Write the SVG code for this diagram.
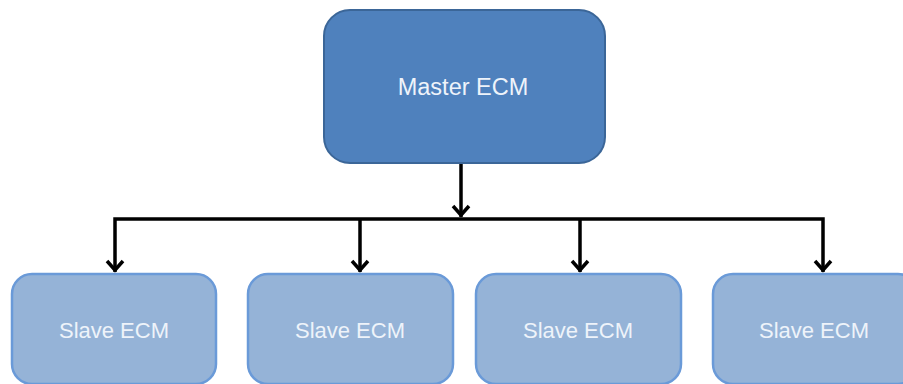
<svg xmlns="http://www.w3.org/2000/svg" width="903" height="384" viewBox="0 0 903 384">
<defs>
<style>
.master{fill:#4f81bd;stroke:#3b6698;stroke-width:2}
.slave{fill:#95b3d7;stroke:#6a9ad8;stroke-width:2.5}
.lbl{font-family:"Liberation Sans",Arial,sans-serif;font-size:22px;fill:#eef3fa;text-anchor:middle}
.big{font-size:23.5px}
.wire{fill:none;stroke:#000;stroke-width:3.5}
</style>
</defs>
<rect width="903" height="384" fill="#fff"/>
<g id="connectors">
<line class="wire" x1="461" y1="163" x2="461" y2="217"/>
<path class="wire" d="M453,206 L461,215 L469,206"/>
<polyline class="wire" points="115,272 115,219 823,219 823,272"/>
<line class="wire" x1="360" y1="219" x2="360" y2="272"/>
<line class="wire" x1="580" y1="219" x2="580" y2="272"/>
<path class="wire" d="M107,261 L115,270 L123,261 M352,261 L360,270 L368,261 M572,261 L580,270 L588,261 M815,261 L823,270 L831,261"/>
</g>
<g id="master">
<rect class="master" x="324" y="10" width="281" height="153" rx="26"/>
<text class="lbl big" x="463" y="95">Master ECM</text>
</g>
<g id="slave1">
<rect class="slave" x="12" y="274" width="204" height="110" rx="20"/>
<text class="lbl" x="114" y="338">Slave ECM</text>
</g>
<g id="slave2">
<rect class="slave" x="248" y="274" width="205" height="110" rx="20"/>
<text class="lbl" x="350" y="338">Slave ECM</text>
</g>
<g id="slave3">
<rect class="slave" x="476" y="274" width="205" height="110" rx="20"/>
<text class="lbl" x="578" y="338">Slave ECM</text>
</g>
<g id="slave4">
<rect class="slave" x="713" y="274" width="205" height="110" rx="20"/>
<text class="lbl" x="814" y="338">Slave ECM</text>
</g>
</svg>
